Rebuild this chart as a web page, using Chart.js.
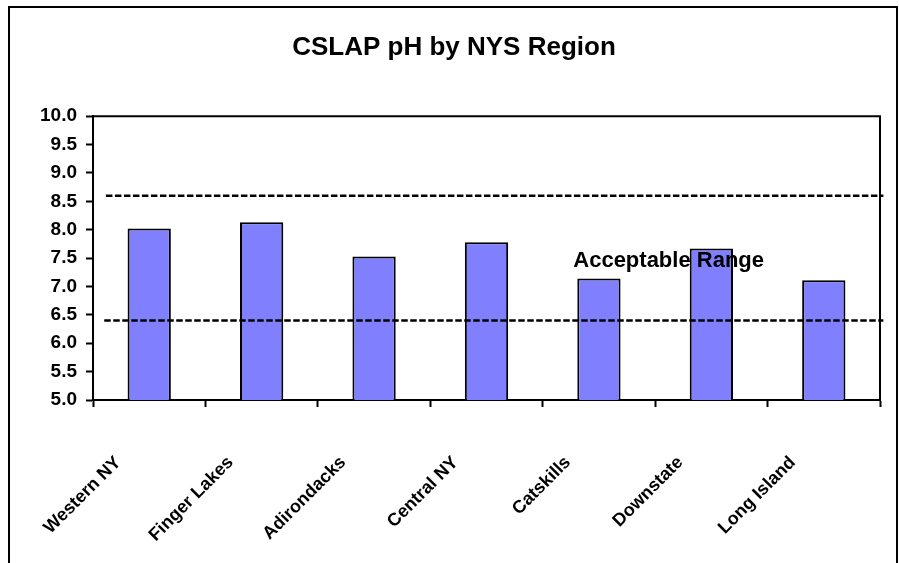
<!DOCTYPE html>
<html>
<head>
<meta charset="utf-8">
<script src="https://cdn.jsdelivr.net/npm/chart.js@4/dist/chart.umd.min.js"></script>
<style>
html, body { margin: 0; padding: 0; background: #fff; }
#wrap { position: relative; width: 899px; height: 563px; overflow: hidden; }
#c { position: absolute; left: 0; top: 0; }
#frame { position: absolute; left: 8px; top: 6px; width: 890px; height: 620px; border: 2.5px solid #000; box-sizing: border-box; pointer-events: none; }
</style>
</head>
<body>
<div id="wrap">
  <canvas id="c" width="899" height="563"></canvas>
  <div id="frame"></div>
</div>
<script>
// ---- data ----
const regions = ['Western NY', 'Finger Lakes', 'Adirondacks', 'Central NY', 'Catskills', 'Downstate', 'Long Island'];
const phValues = [8.02, 8.13, 7.53, 7.78, 7.14, 7.67, 7.11];
const yRange = [5.0, 10.0];
const yStep = 0.5;
const upperLimit = [8.6, 8.6];
const lowerLimit = [6.4, 6.4];
const upperSpan = [0.115, 7.03];
const lowerSpan = [0.1, 7.03];
const rangeLabel = 'Acceptable Range';
const rangeLabelAt = [5.12, 7.35];
const titleText = 'CSLAP pH by NYS Region';

const FONT = '"Liberation Sans", Arial, Helvetica, sans-serif';

const rangeLabelPlugin = {
  id: 'rangeLabel',
  afterDatasetsDraw(chart) {
    const { ctx, scales } = chart;
    const x = scales.xl.getPixelForValue(rangeLabelAt[0]);
    const y = scales.y.getPixelForValue(rangeLabelAt[1]);
    ctx.save();
    ctx.font = 'bold 22px ' + FONT;
    ctx.fillStyle = '#000';
    ctx.textAlign = 'center';
    ctx.textBaseline = 'alphabetic';
    ctx.fillText(rangeLabel, x, y);
    ctx.restore();
  }
};

const plotFramePlugin = {
  id: 'plotFrame',
  afterDraw(chart) {
    const { ctx, chartArea: a } = chart;
    ctx.save();
    ctx.strokeStyle = '#000';
    ctx.lineWidth = 2;
    ctx.beginPath();
    ctx.moveTo(a.left, a.top);
    ctx.lineTo(a.right, a.top);
    ctx.lineTo(a.right, a.bottom);
    ctx.stroke();
    ctx.restore();
  }
};

const limitLine = (vals, span) => ({
  type: 'line',
  xAxisID: 'xl',
  yAxisID: 'y',
  data: span.map((x, i) => ({ x: x, y: vals[i] })),
  borderColor: '#000',
  borderWidth: 2.5,
  borderDash: [6.5, 2.5],
  pointRadius: 0,
  fill: false,
  clip: false,
  order: 0
});

new Chart(document.getElementById('c'), {
  type: 'bar',
  data: {
    labels: regions,
    datasets: [
      {
        type: 'bar',
        label: 'pH',
        data: phValues,
        backgroundColor: '#8080FF',
        borderColor: '#000',
        borderWidth: 2,
        barPercentage: 0.385,
        categoryPercentage: 1.0,
        grouped: false,
        order: 1
      },
      limitLine(upperLimit, upperSpan),
      limitLine(lowerLimit, lowerSpan)
    ]
  },
  options: {
    responsive: false,
    animation: false,
    devicePixelRatio: 1,
    layout: { padding: { left: 28, right: 19, top: 0, bottom: 0 } },
    plugins: {
      legend: { display: false },
      tooltip: { enabled: false },
      title: {
        display: true,
        text: titleText,
        color: '#000',
        font: { family: FONT, size: 26, weight: 'bold' },
        padding: { top: 32, bottom: 53 }
      }
    },
    scales: {
      x: {
        type: 'category',
        offset: true,
        grid: { offset: true, drawOnChartArea: false, drawTicks: true, tickLength: 7, tickWidth: 2, tickColor: '#000' },
        border: { display: true, color: '#000', width: 2 },
        ticks: {
          autoSkip: false,
          minRotation: 45,
          maxRotation: 45,
          padding: 45,
          labelOffset: -31,
          color: '#000',
          font: { family: FONT, size: 18, weight: 'bold' }
        },
        afterFit: (s) => { s.height = 163; }
      },
      xl: {
        type: 'linear',
        display: false,
        offset: false,
        min: 0,
        max: regions.length
      },
      y: {
        min: yRange[0],
        max: yRange[1],
        ticks: {
          stepSize: yStep,
          padding: 9,
          color: '#000',
          font: { family: FONT, size: 19, weight: 'bold' },
          callback: (v) => Number(v).toFixed(1)
        },
        grid: { drawOnChartArea: false, drawTicks: true, tickLength: 7, tickWidth: 2, tickColor: '#000' },
        border: { display: true, color: '#000', width: 2 },
        afterFit: (s) => { s.width = 65; }
      }
    }
  },
  plugins: [rangeLabelPlugin, plotFramePlugin]
});
</script>
</body>
</html>
